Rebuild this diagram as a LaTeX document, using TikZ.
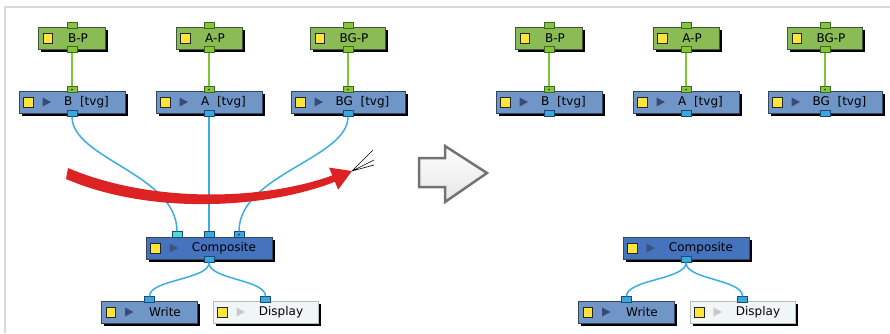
\documentclass[tikz,border=0pt]{standalone}
\usepackage{fontspec}
\setmainfont{DejaVu Sans}
\usepackage{tikz}
\usetikzlibrary{arrows.meta,shadows}

\definecolor{pgreen}{HTML}{8ABB55}
\definecolor{pline}{HTML}{44543A}
\definecolor{tvgblue}{HTML}{7096C8}
\definecolor{compblue}{HTML}{4673BE}
\definecolor{boxline}{HTML}{34465E}
\definecolor{dispfill}{HTML}{EFF6F5}
\definecolor{displine}{HTML}{B4BCBC}
\definecolor{iconyellow}{HTML}{FFE43A}
\definecolor{tridark}{HTML}{3A4A70}
\definecolor{trilight}{HTML}{C6CACA}
\definecolor{portgreen}{HTML}{86C440}
\definecolor{gportline}{HTML}{3E6A1C}
\definecolor{portblue}{HTML}{3AA8DE}
\definecolor{portcyan}{HTML}{50DAD4}
\definecolor{bportline}{HTML}{1E4A72}
\definecolor{wireblue}{HTML}{3AAEE0}
\definecolor{wiregreen}{HTML}{7CC832}
\definecolor{swipered}{HTML}{DC2222}

\begin{document}
\begin{tikzpicture}[x=1pt,y=-1pt,
    box/.style={draw=boxline, line width=0.8pt, minimum height=22pt, inner sep=0pt,
        font=\fontsize{12}{14}\selectfont,
        drop shadow={shadow xshift=2.5pt, shadow yshift=-2.5pt, fill=black, opacity=1}},
    sq/.style={path picture={%
        \draw[black!85, fill=iconyellow, line width=0.6pt]
            ([xshift=4.5pt,yshift=-5pt]path picture bounding box.west) rectangle ++(9.5pt,10pt);}},
    icons/.style={path picture={%
        \draw[black!85, fill=iconyellow, line width=0.6pt]
            ([xshift=4.5pt,yshift=-5pt]path picture bounding box.west) rectangle ++(9.5pt,10pt);
        \fill[#1] ([xshift=23.5pt,yshift=-4.5pt]path picture bounding box.west)
            -- ++(8.5pt,4.5pt) -- ++(-8.5pt,4.5pt) -- cycle;}},
    pnode/.style={box, fill=pgreen, draw=pline, sq, execute at begin node={\hspace*{12pt}}},
    tvg/.style={box, fill=tvgblue, icons=tridark, execute at begin node={\hspace*{29pt}}},
    comp/.style={box, fill=compblue, icons=tridark!80!compblue, execute at begin node={\hspace*{30pt}}},
    wnode/.style={box, fill=tvgblue, icons=tridark, execute at begin node={\hspace*{31pt}}},
    dnode/.style={box, fill=dispfill, draw=displine, icons=trilight, execute at begin node={\hspace*{31pt}}},
    gport/.style={draw=gportline, fill=portgreen, line width=0.6pt, minimum width=10pt, minimum height=6pt, inner sep=0pt},
    bport/.style={gport, draw=bportline, fill=portblue},
    cport/.style={bport, fill=portcyan},
    dot/.style={path picture={\fill[black!80] (path picture bounding box.center) circle (0.9pt);}},
    wire/.style={draw=wireblue, line width=1.5pt},
    gwire/.style={draw=wiregreen, line width=2pt},
    bigarrow/.style={draw=black!55, top color=white, bottom color=black!10, line width=2.5pt, line join=miter},
    frame/.style={draw=black!15, line width=2pt}
]
\useasboundingbox (0,0) rectangle (890,333);
\draw[frame] (5,333) -- (5,7) -- (890,7);

% both panels: left as it is, right after the change
\foreach \side/\dx in {l/0, r/477} {
    \foreach \n/\x/\pw/\tw/\lab in {b/72/67/106/B, a/209/66/106/A, bg/348/75/114/BG} {
        \node[pnode, minimum width=\pw pt] (\n-p-\side) at (\x+\dx,38) {\lab-P};
        \node[tvg, minimum width=\tw pt] (\n-t-\side) at (\x+\dx,102) {\lab~~[tvg]};
        \node[gport] (\n-pin-\side) at ([yshift=1pt]\n-p-\side.north) {};
        \node[gport] (\n-pout-\side) at (\n-p-\side.south) {};
        \node[gport,dot] (\n-tin-\side) at ([yshift=1pt]\n-t-\side.north) {};
        \node[bport] (\n-tout-\side) at (\n-t-\side.south) {};
        \draw[gwire] (\n-pout-\side) -- (\n-tin-\side);
    }
    \node[comp, minimum width=126pt] (comp-\side) at (209+\dx,248) {Composite};
    \node[wnode, minimum width=96pt] (write-\side) at (149.5+\dx,312) {Write};
    \node[dnode, minimum width=105pt] (disp-\side) at (265.5+\dx,312) {Display};
    \node[bport] (comp-out-\side) at (comp-\side.south) {};
    \node[bport] (write-in-\side) at ([yshift=1pt]write-\side.north) {};
    \node[bport] (disp-in-\side) at ([yshift=1pt]disp-\side.north) {};
    \draw[wire] (comp-out-\side.south) .. controls +(0,17) and +(0,-17) .. (write-in-\side.north);
    \draw[wire] (comp-out-\side.south) .. controls +(0,17) and +(0,-17) .. (disp-in-\side.north);
}

% inputs of the left composite
\node[cport] (cin1) at ([xshift=-32pt,yshift=2pt]comp-l.north) {};
\node[bport] (cin2) at ([yshift=2pt]comp-l.north) {};
\node[bport,dot] (cin3) at ([xshift=30pt,yshift=2pt]comp-l.north) {};
\draw[wire] (b-tout-l.south) .. controls +(0,42) and +(0,-57) .. (cin1.north);
\draw[wire] (a-tout-l.south) -- (cin2.north);
\draw[wire] (bg-tout-l.south) .. controls +(0,42) and +(0,-57) .. (cin3.north);

% swipe gesture, tapering towards its head
\coordinate (swipe-end) at (352,171);
\fill[swipered] (68,168) .. controls (150,203) and (262,201) .. (332.3,175.4)
    -- (329,167.6) -- (swipe-end) -- (338.2,189.6) -- (334.9,181.8)
    .. controls (265,209) and (150,215) .. (66,179) -- cycle;
\draw[black, line width=0.6pt] (swipe-end) -- ++(21,-21) (swipe-end) -- ++(22,-11) (swipe-end) -- ++(22,-6);

\draw[bigarrow] (419,158) -- (445,158) -- (445,146) -- (487,173) -- (445,202) -- (445,187) -- (419,187) -- cycle;
\end{tikzpicture}
\end{document}
